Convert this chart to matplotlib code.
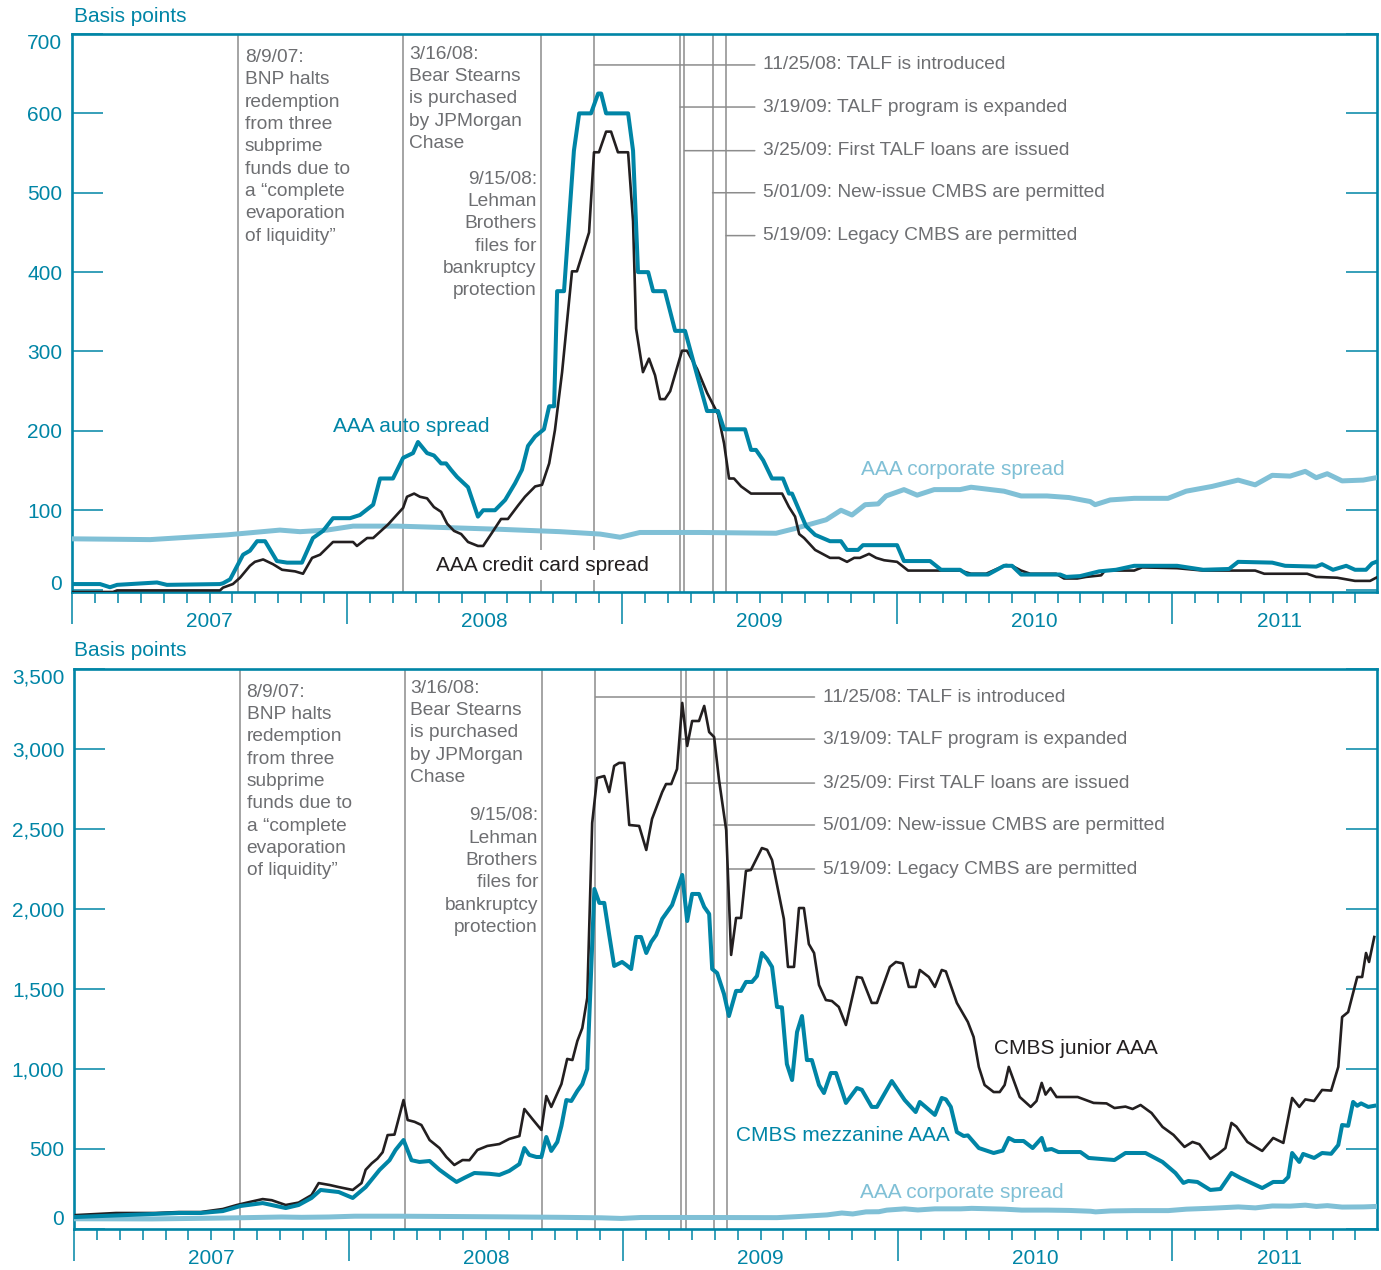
import matplotlib
matplotlib.use("Agg")
import matplotlib.pyplot as plt

plt.rcParams['font.family'] = ['Liberation Sans', 'DejaVu Sans']

TEAL = '#0085a6'
LIGHT = '#80c0d6'
BLACK = '#231f20'
GREY_TXT = '#6d6e71'
GREY_LN = '#8c8c8c'

# ---- data (decimal years, basis points) ----
auto_t = [2007.004, 2007.102, 2007.138, 2007.164, 2007.309, 2007.345, 2007.538, 2007.549, 2007.575,
          2007.622, 2007.647, 2007.673, 2007.702, 2007.745, 2007.782, 2007.836, 2007.876, 2007.913,
          2007.949, 2008.011, 2008.047, 2008.095, 2008.120, 2008.167, 2008.204, 2008.240, 2008.258,
          2008.291, 2008.316, 2008.342, 2008.360, 2008.378, 2008.400, 2008.440, 2008.476, 2008.495,
          2008.538, 2008.575, 2008.611, 2008.636, 2008.658, 2008.684, 2008.716, 2008.735, 2008.753,
          2008.764, 2008.789, 2008.825, 2008.844, 2008.887, 2008.913, 2008.924, 2008.942, 2009.022,
          2009.040, 2009.058, 2009.095, 2009.113, 2009.156, 2009.193, 2009.229, 2009.273, 2009.309,
          2009.349, 2009.371, 2009.447, 2009.469, 2009.487, 2009.513, 2009.545, 2009.585, 2009.607,
          2009.618, 2009.644, 2009.669, 2009.702, 2009.756, 2009.796, 2009.818, 2009.858, 2009.876,
          2010.000, 2010.025, 2010.120, 2010.160, 2010.229, 2010.255, 2010.331, 2010.389, 2010.418,
          2010.451, 2010.593, 2010.615, 2010.665, 2010.735, 2010.796, 2010.862, 2011.018, 2011.113,
          2011.207, 2011.240, 2011.364, 2011.411, 2011.524, 2011.545, 2011.585, 2011.633, 2011.665,
          2011.705, 2011.727, 2011.742]
auto_v = [7, 7, 3, 6, 9, 6, 7, 8, 13,
          44, 49, 61, 61, 36, 34, 34, 65, 74,
          90, 90, 94, 107, 140, 140, 166, 172, 186,
          172, 169, 159, 159, 151, 142, 129, 92, 100,
          100, 113, 134, 151, 181, 193, 202, 231, 231,
          376, 376, 553, 600, 600, 625, 625, 600, 600,
          553, 400, 400, 376, 376, 326, 326, 270, 225,
          225, 202, 202, 176, 176, 163, 140, 140, 121,
          121, 100, 80, 69, 61, 61, 50, 50, 56,
          56, 36, 36, 25, 25, 19, 19, 30, 30,
          19, 19, 16, 17, 23, 25, 30, 30, 25,
          26, 35, 34, 30, 29, 32, 25, 30, 25,
          25, 33, 35]

card_t = [2007.004, 2007.149, 2007.164, 2007.538, 2007.549, 2007.585, 2007.611, 2007.647, 2007.665,
          2007.695, 2007.731, 2007.764, 2007.811, 2007.840, 2007.873, 2007.902, 2007.949, 2008.022,
          2008.036, 2008.073, 2008.095, 2008.149, 2008.204, 2008.218, 2008.244, 2008.265, 2008.291,
          2008.316, 2008.342, 2008.364, 2008.389, 2008.415, 2008.440, 2008.476, 2008.495, 2008.524,
          2008.560, 2008.585, 2008.622, 2008.647, 2008.684, 2008.709, 2008.735, 2008.756, 2008.782,
          2008.818, 2008.836, 2008.855, 2008.880, 2008.898, 2008.916, 2008.942, 2008.960, 2008.985,
          2009.022, 2009.040, 2009.051, 2009.076, 2009.098, 2009.120, 2009.138, 2009.156, 2009.175,
          2009.218, 2009.236, 2009.273, 2009.309, 2009.349, 2009.371, 2009.389, 2009.407, 2009.433,
          2009.469, 2009.582, 2009.607, 2009.629, 2009.644, 2009.662, 2009.702, 2009.756, 2009.789,
          2009.818, 2009.844, 2009.865, 2009.898, 2009.924, 2009.953, 2010.000, 2010.040, 2010.229,
          2010.269, 2010.324, 2010.356, 2010.396, 2010.418, 2010.451, 2010.484, 2010.578, 2010.607,
          2010.655, 2010.687, 2010.742, 2010.756, 2010.862, 2010.891, 2011.018, 2011.113, 2011.302,
          2011.335, 2011.491, 2011.524, 2011.600, 2011.665, 2011.720, 2011.742]
card_v = [-3, -3, -1, -1, 2.5, 7, 15, 30, 35,
          38, 32, 25, 23, 20, 40, 44, 60, 60,
          55, 65, 65, 82, 103, 117, 121, 117, 115,
          104, 98, 83, 74, 70, 60, 55, 55, 70,
          89, 89, 106, 117, 130, 132, 159, 201, 274,
          401, 401, 422, 450, 551, 551, 577, 577, 551,
          551, 464, 329, 274, 291, 270, 240, 240, 250,
          301, 301, 278, 248, 221, 184, 140, 140, 130,
          121, 121, 104, 92, 70, 65, 50, 40, 40,
          35, 40, 40, 45, 40, 37, 35, 24, 24,
          20, 20, 25, 31, 30, 24, 20, 20, 14,
          14, 16, 18, 24, 24, 28, 27, 24, 24,
          20, 20, 16, 15, 11, 11, 15]

corp_t = [2007.000, 2007.284, 2007.564, 2007.756, 2007.829, 2007.927, 2008.022, 2008.182, 2008.375,
          2008.556, 2008.775, 2008.920, 2008.993, 2009.065, 2009.138, 2009.284, 2009.560, 2009.629,
          2009.742, 2009.796, 2009.836, 2009.884, 2009.931, 2009.960, 2010.025, 2010.073, 2010.135,
          2010.229, 2010.269, 2010.389, 2010.451, 2010.545, 2010.625, 2010.702, 2010.720, 2010.775,
          2010.862, 2010.985, 2011.051, 2011.145, 2011.240, 2011.302, 2011.364, 2011.429, 2011.484,
          2011.524, 2011.564, 2011.618, 2011.695, 2011.742]
corp_v = [64, 63, 69, 75, 73, 75, 80, 80, 78,
          76, 73, 70, 66, 72, 72, 72, 71, 77,
          88, 100, 94, 107, 108, 118, 126, 119, 126,
          126, 129, 124, 118, 118, 116, 111, 107, 113,
          115, 115, 124, 130, 138, 132, 144, 143, 149,
          141, 146, 137, 138, 141]

junior_t = [2007.007, 2007.153, 2007.298, 2007.382, 2007.462, 2007.542, 2007.593, 2007.640, 2007.687,
            2007.720, 2007.771, 2007.818, 2007.865, 2007.891, 2007.931, 2007.964, 2008.015, 2008.047,
            2008.062, 2008.084, 2008.105, 2008.124, 2008.142, 2008.167, 2008.200, 2008.215, 2008.240,
            2008.265, 2008.295, 2008.331, 2008.356, 2008.385, 2008.415, 2008.440, 2008.469, 2008.505,
            2008.549, 2008.585, 2008.622, 2008.640, 2008.669, 2008.702, 2008.720, 2008.738, 2008.775,
            2008.796, 2008.815, 2008.833, 2008.851, 2008.869, 2008.887, 2008.905, 2008.931, 2008.949,
            2008.967, 2008.985, 2009.004, 2009.022, 2009.058, 2009.084, 2009.105, 2009.142, 2009.156,
            2009.175, 2009.196, 2009.215, 2009.233, 2009.251, 2009.276, 2009.295, 2009.313, 2009.331,
            2009.349, 2009.375, 2009.393, 2009.411, 2009.429, 2009.447, 2009.465, 2009.505, 2009.524,
            2009.542, 2009.567, 2009.585, 2009.600, 2009.622, 2009.640, 2009.658, 2009.676, 2009.695,
            2009.713, 2009.738, 2009.760, 2009.785, 2009.811, 2009.851, 2009.869, 2009.905, 2009.924,
            2009.971, 2009.993, 2010.018, 2010.040, 2010.065, 2010.080, 2010.113, 2010.135, 2010.160,
            2010.175, 2010.215, 2010.255, 2010.276, 2010.295, 2010.316, 2010.349, 2010.371, 2010.389,
            2010.404, 2010.444, 2010.484, 2010.505, 2010.524, 2010.538, 2010.556, 2010.578, 2010.655,
            2010.713, 2010.760, 2010.789, 2010.829, 2010.855, 2010.884, 2010.924, 2010.964, 2011.004,
            2011.044, 2011.073, 2011.098, 2011.138, 2011.167, 2011.193, 2011.215, 2011.233, 2011.273,
            2011.309, 2011.327, 2011.367, 2011.404, 2011.436, 2011.462, 2011.484, 2011.516, 2011.545,
            2011.578, 2011.604, 2011.618, 2011.640, 2011.673, 2011.691, 2011.705, 2011.716, 2011.735]
junior_v = [87, 100, 100, 106, 106, 125, 150, 169, 187,
            180, 150, 165, 212, 287, 275, 262, 244, 287,
            370, 410, 440, 480, 587, 590, 806, 681, 670,
            650, 556, 506, 450, 400, 431, 430, 494, 519,
            531, 563, 581, 750, 688, 619, 831, 763, 906,
            1063, 1056, 1175, 1256, 1444, 2538, 2819, 2831, 2731,
            2894, 2913, 2913, 2525, 2519, 2369, 2563, 2731, 2781,
            2781, 2875, 3288, 3019, 3175, 3175, 3269, 3106, 3075,
            2806, 2494, 1713, 1944, 1944, 2238, 2244, 2381, 2370,
            2306, 2094, 1938, 1638, 1638, 2006, 2006, 1781, 1725,
            1525, 1431, 1425, 1388, 1275, 1575, 1570, 1413, 1413,
            1638, 1669, 1660, 1513, 1513, 1619, 1575, 1513, 1619,
            1610, 1413, 1294, 1200, 1013, 900, 856, 856, 900,
            1013, 825, 763, 800, 913, 840, 881, 825, 825,
            788, 785, 756, 765, 750, 775, 725, 638, 588,
            513, 544, 530, 438, 470, 506, 663, 640, 544,
            506, 488, 569, 538, 819, 763, 810, 800, 869,
            865, 1013, 1325, 1356, 1575, 1575, 1725, 1669, 1825]

mezz_t = [2007.007, 2007.382, 2007.462, 2007.542, 2007.607, 2007.687, 2007.771, 2007.818, 2007.865,
          2007.898, 2007.964, 2008.015, 2008.062, 2008.113, 2008.149, 2008.171, 2008.200, 2008.229,
          2008.258, 2008.295, 2008.331, 2008.367, 2008.393, 2008.422, 2008.458, 2008.513, 2008.549,
          2008.585, 2008.622, 2008.640, 2008.658, 2008.684, 2008.702, 2008.720, 2008.738, 2008.760,
          2008.775, 2008.793, 2008.811, 2008.833, 2008.851, 2008.869, 2008.884, 2008.895, 2008.913,
          2008.931, 2008.949, 2008.967, 2008.996, 2009.011, 2009.029, 2009.047, 2009.065, 2009.084,
          2009.102, 2009.120, 2009.142, 2009.178, 2009.215, 2009.233, 2009.251, 2009.276, 2009.295,
          2009.313, 2009.324, 2009.342, 2009.367, 2009.385, 2009.411, 2009.429, 2009.447, 2009.469,
          2009.487, 2009.505, 2009.524, 2009.542, 2009.560, 2009.578, 2009.596, 2009.615, 2009.633,
          2009.651, 2009.669, 2009.687, 2009.713, 2009.731, 2009.756, 2009.775, 2009.811, 2009.851,
          2009.869, 2009.905, 2009.924, 2009.978, 2010.025, 2010.065, 2010.080, 2010.135, 2010.160,
          2010.175, 2010.193, 2010.215, 2010.240, 2010.255, 2010.295, 2010.349, 2010.382, 2010.404,
          2010.425, 2010.458, 2010.491, 2010.524, 2010.538, 2010.560, 2010.585, 2010.665, 2010.695,
          2010.789, 2010.829, 2010.902, 2010.964, 2011.011, 2011.040, 2011.058, 2011.091, 2011.138,
          2011.175, 2011.215, 2011.247, 2011.287, 2011.327, 2011.367, 2011.404, 2011.422, 2011.436,
          2011.462, 2011.476, 2011.516, 2011.545, 2011.578, 2011.604, 2011.618, 2011.640, 2011.658,
          2011.673, 2011.687, 2011.713, 2011.735]
mezz_v = [75, 100, 100, 112, 144, 162, 131, 150, 194,
          244, 231, 194, 262, 370, 430, 494, 556, 430,
          419, 425, 370, 325, 294, 320, 350, 345, 338,
          363, 406, 506, 463, 450, 450, 575, 488, 544,
          644, 806, 800, 863, 906, 1000, 1644, 2125, 2038,
          2038, 1838, 1644, 1669, 1650, 1625, 1825, 1825, 1725,
          1794, 1838, 1938, 2025, 2213, 1925, 2094, 2094, 2013,
          1969, 1625, 1600, 1469, 1331, 1488, 1488, 1544, 1544,
          1581, 1725, 1688, 1638, 1388, 1385, 1031, 931, 1231,
          1331, 1056, 1056, 900, 850, 975, 975, 788, 881,
          870, 763, 763, 925, 806, 731, 794, 713, 819,
          810, 763, 606, 581, 585, 506, 475, 490, 569,
          550, 550, 506, 569, 494, 500, 481, 481, 444,
          431, 475, 475, 419, 350, 288, 300, 294, 244,
          250, 350, 320, 288, 256, 294, 294, 325, 475,
          419, 469, 444, 475, 470, 525, 650, 645, 794,
          770, 785, 763, 770]

years = [2007, 2008, 2009, 2010, 2011]
year_label_x = [2007.5, 2008.5, 2009.5, 2010.5, 2011.39]

# events
ev_bnp = 2007.603
ev_bear = 2008.205
ev_lehman = 2008.705
talf_dates = [2008.899, 2009.211, 2009.227, 2009.329, 2009.378]
talf_text = ['11/25/08: TALF is introduced',
             '3/19/09: TALF program is expanded',
             '3/25/09: First TALF loans are issued',
             '5/01/09: New-issue CMBS are permitted',
             '5/19/09: Legacy CMBS are permitted']
bnp_text = '8/9/07:\nBNP halts\nredemption\nfrom three\nsubprime\nfunds due to\na \u201ccomplete\nevaporation\nof liquidity\u201d'
bear_text = '3/16/08:\nBear Stearns\nis purchased\nby JPMorgan\nChase'
lehman_text = '9/15/08:\nLehman\nBrothers\nfiles for\nbankruptcy\nprotection'

X_END = 2011.745
W, H = 1381, 1270
NOTE_FS = 13.8
NOTE_LS = 1.41

fig = plt.figure(figsize=(W / 100, H / 100), dpi=100)
ax1 = fig.add_axes([72 / W, 1 - 592 / H, (1377 - 72) / W, (592 - 34) / H])
ax2 = fig.add_axes([74 / W, 1 - 1229 / H, (1377 - 74) / W, (1229 - 669) / H])


def style_axes(ax, yticks, ylabels, ylim, zero_va):
    ax.set_xlim(2007, X_END)
    ax.set_ylim(*ylim)
    for s in ax.spines.values():
        s.set_color(TEAL)
        s.set_linewidth(1.9)
    ax.set_yticks(yticks)
    ax.set_yticklabels(ylabels)
    ax.tick_params(axis='y', direction='in', length=22, width=1.1, color=TEAL,
                   labelcolor=TEAL, labelsize=15, left=True, right=True, pad=7)
    labs = ax.get_yticklabels()
    labs[0].set_va(zero_va)
    labs[-1].set_va('top')
    months = [y + m / 12 for y in years for m in range(1, 12) if y + m / 12 < X_END]
    ax.set_xticks(years)
    ax.set_xticks(months, minor=True)
    ax.set_xticklabels([])
    ax.tick_params(axis='x', which='major', direction='out', length=23, width=1.1, color=TEAL)
    ax.tick_params(axis='x', which='minor', direction='out', length=8, width=1.1, color=TEAL)
    for x, y in zip(year_label_x, years):
        ax.text(x, -0.053, str(y), transform=ax.get_xaxis_transform(), ha='center', va='center',
                color=TEAL, fontsize=15)


def add_events(ax, talf_x, talf_y, left_tops):
    for d in [ev_bnp, ev_bear, ev_lehman] + talf_dates:
        ax.axvline(d, color=GREY_LN, lw=1.1, zorder=1)
    trans = ('data', 'axes fraction')
    ax.annotate(bnp_text, xy=(ev_bnp, left_tops[0]), xycoords=trans, xytext=(5, 0),
                textcoords='offset points', ha='left', va='top', fontsize=NOTE_FS,
                color=GREY_TXT, linespacing=NOTE_LS)
    ax.annotate(bear_text, xy=(ev_bear, left_tops[1]), xycoords=trans, xytext=(4, 0),
                textcoords='offset points', ha='left', va='top', fontsize=NOTE_FS,
                color=GREY_TXT, linespacing=NOTE_LS)
    ax.annotate(lehman_text, xy=(ev_lehman, left_tops[2]), xycoords=trans, xytext=(-3, 0),
                textcoords='offset points', ha='right', va='top', fontsize=NOTE_FS,
                color=GREY_TXT, linespacing=NOTE_LS, multialignment='right')
    for d, y, t in zip(talf_dates, talf_y, talf_text):
        ax.annotate(t, xy=(d, y), xytext=(talf_x, y), ha='left', va='center',
                    fontsize=NOTE_FS, color=GREY_TXT,
                    arrowprops=dict(arrowstyle='-', color=GREY_LN, lw=1.1,
                                    shrinkA=4, shrinkB=0))


# ---- top panel ----
style_axes(ax1, [0, 100, 200, 300, 400, 500, 600, 700],
           ['0', '100', '200', '300', '400', '500', '600', '700'], (-3, 700), 'baseline')
add_events(ax1, 2009.513, [661, 608, 553, 500, 446], [0.973, 0.979, 0.755])
ax1.plot(corp_t, corp_v, color=LIGHT, lw=3.6, zorder=3, solid_joinstyle='round')
ax1.plot(card_t, card_v, color=BLACK, lw=1.9, zorder=4)
ax1.plot(auto_t, auto_v, color=TEAL, lw=2.9, zorder=5)
ax1.text(2008.233, 206, 'AAA auto spread', color=TEAL, fontsize=15, ha='center', va='center')
ax1.text(2010.24, 151, 'AAA corporate spread', color=LIGHT, fontsize=15, ha='center', va='center')
ax1.text(2008.709, 31, 'AAA credit card spread', color=BLACK, fontsize=15, ha='center',
         va='center', zorder=2.5,
         bbox=dict(boxstyle='square,pad=0.25', fc='white', ec='none'))

# ---- bottom panel ----
style_axes(ax2, [0, 500, 1000, 1500, 2000, 2500, 3000, 3500],
           ['0', '500', '1,000', '1,500', '2,000', '2,500', '3,000', '3,500'], (0, 3500), 'bottom')
add_events(ax2, 2009.727, [3325, 3062, 2787, 2525, 2250], [0.974, 0.981, 0.753])
ax2.plot(corp_t, corp_v, color=LIGHT, lw=3.6, zorder=3, solid_joinstyle='round')
ax2.plot(junior_t, junior_v, color=BLACK, lw=1.9, zorder=4)
ax2.plot(mezz_t, mezz_v, color=TEAL, lw=2.9, zorder=5)
ax2.text(2010.647, 1125, 'CMBS junior AAA', color=BLACK, fontsize=15, ha='center', va='center')
ax2.text(2009.80, 582, 'CMBS mezzanine AAA', color=TEAL, fontsize=15, ha='center', va='center')
ax2.text(2010.233, 225, 'AAA corporate spread', color=LIGHT, fontsize=15, ha='center', va='center')

fig.text(74 / W, 1 - 16 / H, 'Basis points', color=TEAL, fontsize=15, ha='left', va='center')
fig.text(74 / W, 1 - 651 / H, 'Basis points', color=TEAL, fontsize=15, ha='left', va='center')

fig.savefig('out.png', dpi=100)
